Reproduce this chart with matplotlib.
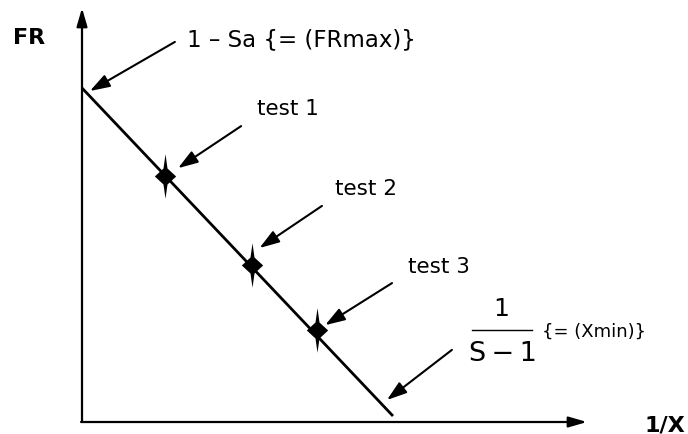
import matplotlib
matplotlib.use("Agg")
import matplotlib.pyplot as plt
from matplotlib.path import Path

# ---- data (abstract units: FR on y, 1/X on x) ----
fr_max = 1.0                      # intercept 1 - Sa
line_x = [0.0, 0.981]             # fitted line, 1/X
line_y = [1.0, 0.018]             # fitted line, FR
test_x = [0.262, 0.536, 0.741]    # 1/X of tests
test_fr = [0.737, 0.470, 0.275]   # FR of tests
test_labels = ["test 1", "test 2", "test 3"]
x_label = "1/X"
y_label = "FR"
frmax_label = "1 \u2013 Sa {= (FRmax)}"
xmin_num = "1"
xmin_den = "S\u2009\u2212\u20091"
xmin_note = "{= (Xmin)}"

plt.rcParams['font.family'] = ['DejaVu Sans']

fig = plt.figure(figsize=(6.88, 4.34), dpi=100)
ax = fig.add_axes([0, 0, 1, 1])
ax.set_xlim(-0.2587, 1.9117)
ax.set_ylim(-0.0359, 1.2635)
ax.axis('off')

# axes with arrows
ax_arrow = dict(arrowstyle='-|>,head_length=1.1,head_width=0.32', color='black',
                lw=1.6, mutation_scale=10, shrinkA=0, shrinkB=0)
ax.annotate('', xy=(0, 1.2395), xytext=(0, -0.0), arrowprops=ax_arrow)
ax.annotate('', xy=(1.593, 0), xytext=(-0.003, 0), arrowprops=ax_arrow)

# main line
ax.plot(line_x, line_y, color='black', lw=2.0, solid_capstyle='butt')

# star markers
verts = [(0, 1), (0.09, 0.36), (0.48, 0), (0.09, -0.36), (0, -1),
         (-0.09, -0.36), (-0.48, 0), (-0.09, 0.36), (0, 1)]
codes = [Path.MOVETO] + [Path.LINETO] * 7 + [Path.CLOSEPOLY]
star = Path(verts, codes)
ax.plot(test_x, test_fr, linestyle='none', marker=star, markersize=32,
        color='black', markeredgewidth=0)

# annotation arrows
arr = dict(arrowstyle='-|>,head_length=1.2,head_width=0.4', color='black',
           lw=1.5, mutation_scale=10, shrinkA=0, shrinkB=0)
ax.annotate('', xy=(0.025, 0.991), xytext=(0.293, 1.138), arrowprops=arr)
ax.annotate('', xy=(0.303, 0.760), xytext=(0.502, 0.886), arrowprops=arr)
ax.annotate('', xy=(0.560, 0.521), xytext=(0.757, 0.647), arrowprops=arr)
ax.annotate('', xy=(0.767, 0.290), xytext=(0.978, 0.416), arrowprops=arr)
ax.annotate('', xy=(0.962, 0.066), xytext=(1.167, 0.216), arrowprops=arr)

# texts
ax.text(0.331, 1.144, frmax_label, fontsize=16.5, ha='left', va='center')
label_pos = [(0.552, 0.937), (0.798, 0.698), (1.028, 0.464)]
for (lx, ly), lab in zip(label_pos, test_labels):
    ax.text(lx, ly, lab, fontsize=15.5, ha='left', va='center')

ax.text(-0.218, 1.151, y_label, fontsize=16, fontweight='bold', ha='left', va='center')
ax.text(1.776, -0.009, x_label, fontsize=16, fontweight='bold', ha='left', va='center')

# fraction 1/(S-1)
ax.text(1.322, 0.338, xmin_num, fontsize=18, ha='center', va='center')
ax.plot([1.230, 1.420], [0.275, 0.275], color='black', lw=1.0)
ax.text(1.328, 0.205, xmin_den, fontsize=19.5, ha='center', va='center')
ax.text(1.451, 0.269, xmin_note, fontsize=13, ha='left', va='center')

fig.savefig('out.png', dpi=100, facecolor='white')
